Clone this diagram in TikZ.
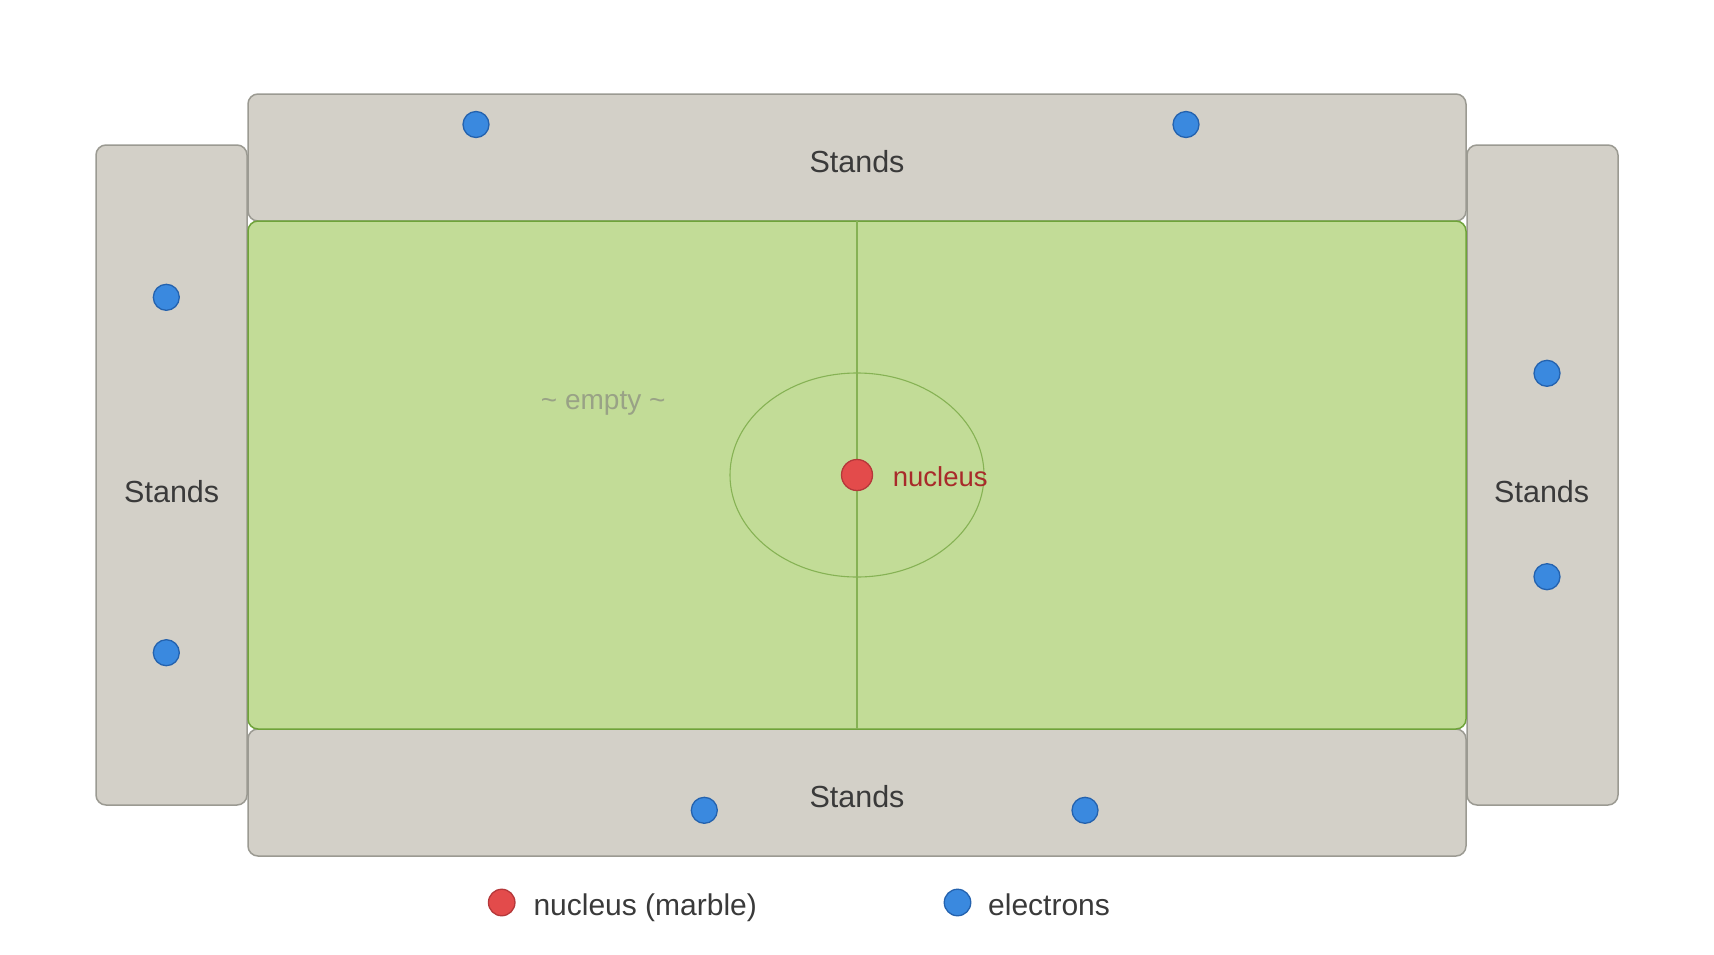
\documentclass[tikz,border=0pt]{standalone}
\usepackage{fontspec}
\setmainfont{Liberation Sans}
\usetikzlibrary{shapes.geometric}
\definecolor{standfill}{HTML}{D3D0C8}
\definecolor{standline}{HTML}{9B9A92}
\definecolor{fieldfill}{HTML}{C2DC97}
\definecolor{fieldline}{HTML}{6FA33A}
\definecolor{markline}{HTML}{86B254}
\definecolor{nucfill}{HTML}{E34B4B}
\definecolor{nucline}{HTML}{B5383A}
\definecolor{elfill}{HTML}{3A89DF}
\definecolor{elline}{HTML}{2462AE}
\definecolor{txt}{HTML}{3A3A3A}
\definecolor{nuctxt}{HTML}{A82A2A}
\definecolor{emptytxt}{HTML}{99A286}
\tikzset{
  standbox/.style={draw=standline, fill=standfill, line width=1.5pt, rounded corners=10pt, inner sep=0pt, outer sep=0pt},
  fieldbox/.style={draw=fieldline, fill=fieldfill, line width=1.5pt, rounded corners=10pt, inner sep=0pt, outer sep=0pt},
  marking/.style={draw=markline, line width=1.1pt},
  electron/.style={circle, draw=elline, fill=elfill, line width=1.3pt, minimum size=26pt, inner sep=0pt},
  nucdot/.style={circle, draw=nucline, fill=nucfill, line width=1.3pt, minimum size=31pt, inner sep=0pt},
  legdot/.style={circle, line width=1.3pt, minimum size=26.5pt, inner sep=0pt},
  standlabel/.style={anchor=base, text=txt, font=\fontsize{30.5}{36}\selectfont, inner sep=0pt},
  legtext/.style={anchor=base west, text=txt, font=\fontsize{30}{36}\selectfont, inner sep=0pt}
}
\begin{document}
\begin{tikzpicture}[x=1pt,y=-1pt]
\useasboundingbox[fill=white] (0,0) rectangle (1714,954);
% stands
\node[standbox, minimum width=151pt, minimum height=660pt] (leftstand) at (171.5,475) {};
\node[standbox, minimum width=151pt, minimum height=660pt] (rightstand) at (1542.5,475) {};
\node[standbox, minimum width=1218pt, minimum height=127pt] (topstand) at (857,157.5) {};
\node[standbox, minimum width=1218pt, minimum height=127pt] (bottomstand) at (857,792.5) {};
% field
\node[fieldbox, minimum width=1218pt, minimum height=508pt] (field) at (857,475) {};
\draw[marking] (field.north) -- (field.south);
\node[ellipse, marking, minimum width=254pt, minimum height=204pt, inner sep=0pt] (orbit) at (field.center) {};
% labels
\node[standlabel] (toplabel) at (857,172) {Stands};
\node[standlabel] (leftlabel) at (171.7,502) {Stands};
\node[standlabel] (rightlabel) at (1541.7,502) {Stands};
\node[standlabel] (bottomlabel) at (857,807) {Stands};
\node[anchor=base, text=emptytxt, font=\fontsize{28}{34}\selectfont, inner sep=0pt] (empty) at (603.2,409.5) {\~{} empty \~{}};
% nucleus
\node[nucdot] (nucleus) at (field.center) {};
\node[anchor=base west, text=nuctxt, font=\fontsize{27.5}{33}\selectfont, inner sep=0pt] (nuclabel) at (892.7,486) {nucleus};
% electrons
\node[electron] (e1) at (476,124.5) {};
\node[electron] (e2) at (1186,124.5) {};
\node[electron] (e3) at (166.3,297.3) {};
\node[electron] (e4) at (166.3,652.7) {};
\node[electron] (e5) at (1547,373.3) {};
\node[electron] (e6) at (1547,576.7) {};
\node[electron] (e7) at (704.3,810.3) {};
\node[electron] (e8) at (1085,810.3) {};
% legend
\node[legdot, draw=nucline, fill=nucfill] (legnuc) at (501.7,902.5) {};
\node[legtext] (legnuctext) at (533.3,915) {nucleus (marble)};
\node[legdot, draw=elline, fill=elfill] (legel) at (957.5,902.5) {};
\node[legtext] (legeltext) at (988,915) {electrons};
\end{tikzpicture}
\end{document}
